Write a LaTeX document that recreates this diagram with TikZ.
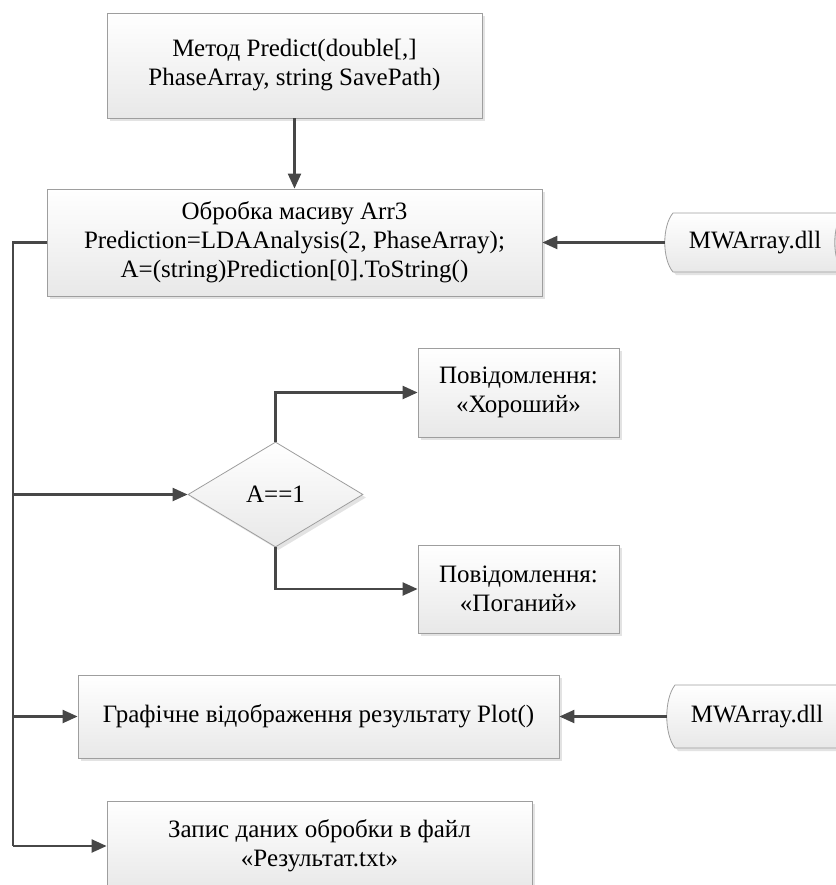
\documentclass[tikz,border=0pt]{standalone}
\usepackage{fontspec}
\setmainfont{Liberation Serif}
\usetikzlibrary{arrows.meta,shapes.geometric,shadows}
\begin{document}
\begin{tikzpicture}[x=1pt,y=-1pt,
  font=\fontsize{25}{29}\selectfont,
  shadowed/.style={drop shadow={shadow xshift=3pt, shadow yshift=-3pt, fill=black!22}},
  skin/.style={draw=black!38, line width=0.8pt, top color=white, bottom color=black!9},
  box/.style={skin, shadowed, align=center, inner sep=0pt},
  conn/.style={draw=black!72, line width=2.2pt},
  arr/.style={conn, -{Triangle[length=15pt,width=13pt]}},
]
\useasboundingbox (0,0) rectangle (835,885);

% nodes
\node[box, minimum width=375pt, minimum height=105pt] (top) at (294.5,65.5)
  {Метод Predict(double[,]\\PhaseArray, string SavePath)};
\node[box, minimum width=495pt, minimum height=107pt] (proc) at (294.5,242.5)
  {Обробка масиву Arr3\\Prediction=LDAAnalysis(2, PhaseArray);\\A=(string)Prediction[0].ToString()};
\node[box, diamond, minimum width=175pt, minimum height=105pt] (dia) at (275.5,494.5) {A==1};
\node[box, minimum width=201pt, minimum height=89pt] (good) at (518.5,392.5)
  {Повідомлення:\\«Хороший»};
\node[box, minimum width=201pt, minimum height=88pt] (bad) at (518.5,589)
  {Повідомлення:\\«Поганий»};
\node[box, minimum width=481pt, minimum height=83pt] (plot) at (318.5,716.5)
  {Графічне відображення результату Plot()};
\node[box, minimum width=425pt, minimum height=90pt] (file) at (319.5,846)
  {Запис даних обробки в файл\\«Результат.txt»};

% stored data shapes
\path[skin, shadowed] (673,213) -- (843,213) .. controls (832,226) and (832,259) .. (843,272)
  -- (673,272) .. controls (662,259) and (662,226) .. (673,213) -- cycle;
\node[minimum width=180pt, minimum height=59pt, inner sep=0pt] (mw1) at (755,242.5) {MWArray.dll};
\path[skin, shadowed] (675,685) -- (845,685) .. controls (834,699) and (834,734) .. (845,748)
  -- (675,748) .. controls (664,734) and (664,699) .. (675,685) -- cycle;
\node[minimum width=180pt, minimum height=63pt, inner sep=0pt] (mw2) at (757,716.5) {MWArray.dll};

% connectors
\coordinate (lt) at (13,242.5);
\coordinate (lb) at (13,846);
\draw[arr] (top.south) -- (proc.north);
\draw[arr] (mw1.west) -- (proc.east);
\draw[conn, line join=miter] (proc.west) -- (lt) -- (lb);
\draw[arr] (lt |- dia.west) -- (dia.west);
\draw[arr] (lt |- plot.west) -- (plot.west);
\draw[arr] (lb) -- (file.west);
\draw[arr] (dia.north) |- (good.west);
\draw[arr] (dia.south) |- (bad.west);
\draw[arr] (mw2.west) -- (plot.east);
\end{tikzpicture}
\end{document}
